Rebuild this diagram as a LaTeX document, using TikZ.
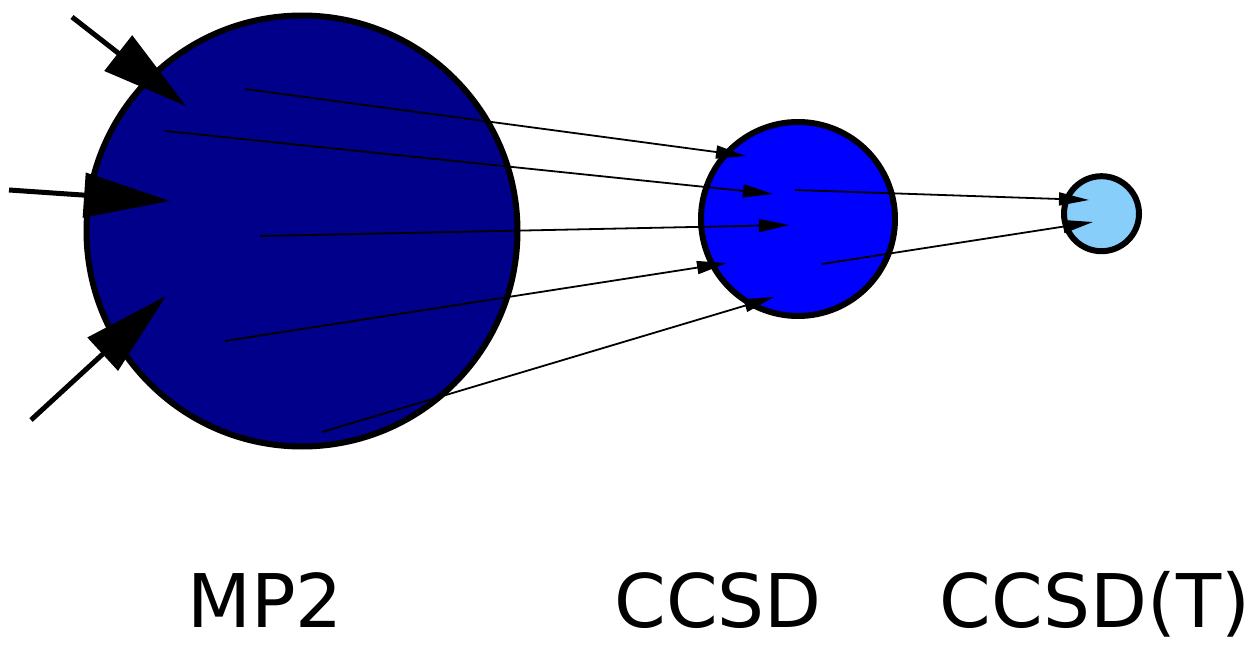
\documentclass[tikz,border=0pt]{standalone}
\usepackage{fontspec}
\setmainfont{DejaVu Sans}
\usetikzlibrary{arrows.meta}
\definecolor{mptwocol}{RGB}{0,0,139}
\definecolor{ccsdcol}{RGB}{0,0,255}
\definecolor{ccsdtcol}{RGB}{135,206,250}
\begin{document}
\begin{tikzpicture}[x=1pt,y=-1pt,
  ball/.style={draw=black,line width=6pt,circle,inner sep=0pt},
  bigarrow/.style={line width=5pt,-{Triangle[length=86pt,width=44pt]}},
  smallarrow/.style={line width=1.8pt,-{Triangle[length=30pt,width=13pt]}},
  lbl/.style={font=\fontsize{74}{80}\selectfont,anchor=base,inner sep=0pt}]
\useasboundingbox (0,0) rectangle (1256,647);
% circles
\node[ball,fill=mptwocol,minimum size=431pt] (mp2) at (302,231) {};
\node[ball,fill=ccsdcol,minimum size=194pt] (ccsd) at (798,219) {};
\node[ball,fill=ccsdtcol,minimum size=75pt] (ccsdt) at (1101.5,213.7) {};
% labels
\node[lbl] (lmp2) at (265,627) {MP2};
\node[lbl] (lccsd) at (718,627) {CCSD};
\node[lbl] (lccsdt) at (1095,627) {CCSD(T)};
% big incoming arrows
\coordinate (in1s) at (72,17);   \coordinate (in1e) at (186,106);
\coordinate (in2s) at (9,190);   \coordinate (in2e) at (170,201);
\coordinate (in3s) at (31,420);  \coordinate (in3e) at (166,296);
\draw[bigarrow] (in1s) -- (in1e);
\draw[bigarrow] (in2s) -- (in2e);
\draw[bigarrow] (in3s) -- (in3e);
% MP2 -> CCSD
\coordinate (a1) at (245,89);  \coordinate (b1) at (746,156);
\coordinate (a2) at (165,131); \coordinate (b2) at (773,194);
\coordinate (a3) at (260,236); \coordinate (b3) at (789,225);
\coordinate (a4) at (225,341); \coordinate (b4) at (727,263);
\coordinate (a5) at (322,432); \coordinate (b5) at (774,297);
\draw[smallarrow] (a1) -- (b1);
\draw[smallarrow] (a2) -- (b2);
\draw[smallarrow] (a3) -- (b3);
\draw[smallarrow] (a4) -- (b4);
\draw[smallarrow] (a5) -- (b5);
% CCSD -> CCSD(T)
\coordinate (c1) at (795,190); \coordinate (d1) at (1089,200);
\coordinate (c2) at (822,264); \coordinate (d2) at (1093,222);
\draw[smallarrow] (c1) -- (d1);
\draw[smallarrow] (c2) -- (d2);
\end{tikzpicture}
\end{document}
